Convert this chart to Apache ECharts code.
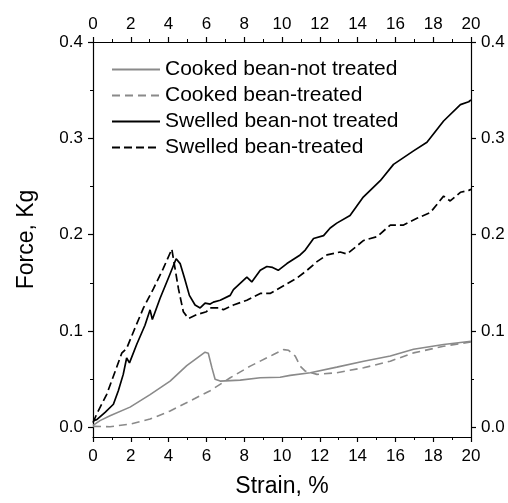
<!DOCTYPE html>
<html><head><meta charset="utf-8">
<script src="https://cdn.jsdelivr.net/npm/echarts@6/dist/echarts.min.js"></script>
<style>html,body{margin:0;padding:0;background:#fff}#c{width:508px;height:503px}</style>
</head><body><div id="c"></div>
<script>
// Cooked bean-not treated
const cntX = [0,0.37,0.9,1.96,3.02,4.08,4.96,5.93,6.1,6.29,6.46,6.73,7.79,8.85,9.9,10.43,11.5,12.9,14.32,15.73,16.96,18.55,20];
const cntY = [0.002,0.007,0.012,0.021,0.034,0.048,0.064,0.078,0.077,0.062,0.050,0.048,0.049,0.0515,0.052,0.054,0.0567,0.0625,0.0687,0.074,0.081,0.086,0.0894];
// Cooked bean-treated
const ctX = [0,0.9,1.96,3.02,4.08,5.14,6.2,7.26,8.32,9.55,10.08,10.35,10.7,10.96,11.23,11.85,12.9,14.32,15.73,16.96,18.55,20];
const ctY = [0.001,0.0007,0.0034,0.0086,0.017,0.0275,0.038,0.0515,0.0636,0.0756,0.0807,0.080,0.074,0.0636,0.0584,0.055,0.0567,0.0619,0.0687,0.0773,0.0842,0.0887];
// Swelled bean-not treated
const sntX = [0,0.2,0.64,1.08,1.34,1.6,1.78,1.93,2.31,2.75,3.02,3.14,3.55,3.99,4.4,4.61,4.84,5.1,5.4,5.67,5.93,6.2,6.37,6.73,7.26,7.43,8.14,8.4,8.85,9.2,9.5,9.8,10.26,10.96,11.23,11.67,12.2,12.55,12.9,13.6,14.3,15.2,15.9,16.96,17.67,18.55,19.44,19.88,20];
const sntY = [0.007,0.008,0.0155,0.024,0.038,0.055,0.072,0.067,0.086,0.106,0.122,0.112,0.134,0.155,0.175,0.170,0.155,0.137,0.127,0.124,0.129,0.128,0.130,0.132,0.137,0.143,0.156,0.151,0.163,0.167,0.166,0.163,0.170,0.179,0.184,0.196,0.199,0.207,0.212,0.220,0.239,0.256,0.273,0.287,0.296,0.318,0.335,0.338,0.340];
// Swelled bean-treated
const stX = [0,0.2,0.72,1.17,1.52,1.78,2.22,2.67,3.2,3.72,4.17,4.34,4.52,4.78,5.05,5.49,6.0,6.2,6.73,6.9,7.43,8.14,8.85,9.37,9.99,10.79,11.32,11.85,12.38,13.08,13.44,14.32,15.03,15.73,16.43,17.14,17.85,18.55,18.9,19.44,19.88,20];
const stY = [0.005,0.014,0.034,0.058,0.077,0.082,0.103,0.124,0.144,0.165,0.185,0.165,0.144,0.120,0.113,0.117,0.120,0.124,0.124,0.122,0.127,0.132,0.139,0.139,0.146,0.155,0.163,0.172,0.179,0.182,0.180,0.194,0.198,0.210,0.210,0.217,0.223,0.240,0.235,0.244,0.246,0.247];

const xTicks = [0,2,4,6,8,10,12,14,16,18,20];
const yMajor = [0,0.1,0.2,0.3,0.4];
const yMinor = [0.05,0.15,0.25,0.35];
const names = ['Cooked bean-not treated','Cooked bean-treated','Swelled bean-not treated','Swelled bean-treated'];

const zip = (a,b) => a.map((v,i)=>[v,b[i]]);
const FONT = 'Liberation Sans, Arial, sans-serif';
const GRAY = '#8a8a8a';

const chart = echarts.init(document.getElementById('c'), null, {renderer:'canvas'});
function xAx(pos){
  return {type:'value', position:pos, min:0, max:20, interval:2,
    axisLine:{show:true, onZero:false, lineStyle:{color:'#000', width:1.2}},
    axisTick:{show:true, inside:false, length:5, lineStyle:{color:'#000', width:1.2}},
    minorTick:{show:true, splitNumber:2, length:3, lineStyle:{color:'#000', width:1}},
    splitLine:{show:false},
    axisLabel:{show:true, margin:pos==='top'?9:11, color:'#000', fontFamily:FONT, fontSize:17},
    name: pos==='bottom' ? 'Strain, %' : '', nameLocation:'middle', nameGap:38,
    nameTextStyle:{color:'#000', fontFamily:FONT, fontSize:23}
  };
}
function yAx(pos, minor){
  return {type:'value', position:pos, min:-0.01, max:0.4,
    axisLine:{show:!minor, onZero:false, lineStyle:{color:'#000', width:1.2}},
    axisTick:{show:true, inside:false, length: minor?3:5, customValues: minor?yMinor:yMajor, lineStyle:{color:'#000', width: minor?1:1.2}},
    splitLine:{show:false},
    axisLabel:{show:!minor, customValues:yMajor, margin:10, color:'#000', fontFamily:FONT, fontSize:17, formatter:v=>Number(v).toFixed(1)},
    name: (pos==='left' && !minor) ? 'Force, Kg' : '', nameLocation:'middle', nameGap:55,
    nameTextStyle:{color:'#000', fontFamily:FONT, fontSize:23}
  };
}
const mk = (name, data, color, dash, w) => ({
  name, type:'line', data, xAxisIndex:0, yAxisIndex:0, symbol:'none', showSymbol:false,
  lineStyle:{color, width:w, type: dash ? dash : 'solid'}, itemStyle:{color}, animation:false, z: 3
});
chart.setOption({
  animation:false,
  backgroundColor:'#fff',
  grid:{left:93, right:37, top:42, bottom:63, containLabel:false},
  xAxis:[xAx('bottom'), xAx('top')],
  yAxis:[yAx('left',false), yAx('left',true), yAx('right',false), yAx('right',true)],
  legend:{show:true, orient:'vertical', left:106, top:54, itemWidth:48, itemHeight:14, itemGap:5,
    itemStyle:{opacity:0, borderWidth:0},
    textStyle:{color:'#000', fontFamily:FONT, fontSize:21},
    data:names},
  series:[
    mk(names[0], zip(cntX,cntY), GRAY, null, 1.6),
    mk(names[1], zip(ctX,ctY), GRAY, [8,5], 1.6),
    mk(names[2], zip(sntX,sntY), '#000', null, 1.7),
    mk(names[3], zip(stX,stY), '#000', [8,4], 1.7)
  ]
});
</script></body></html>
